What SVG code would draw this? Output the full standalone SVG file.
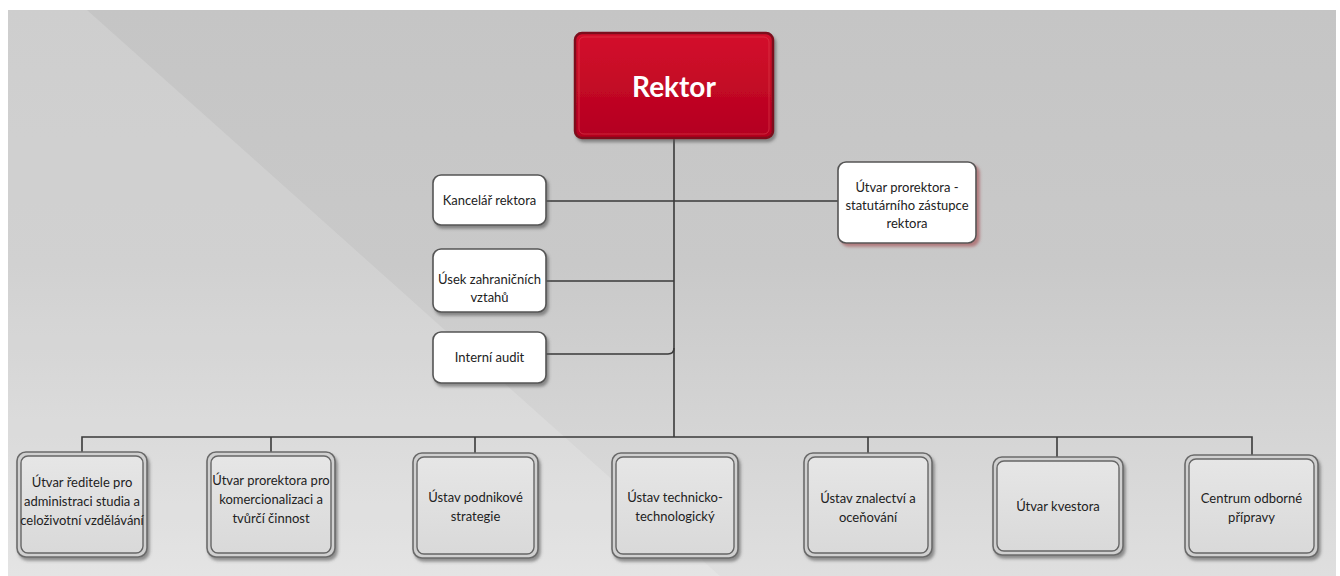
<svg xmlns="http://www.w3.org/2000/svg" width="1340" height="576" viewBox="0 0 1340 576">
<defs>
<linearGradient id="bg" x1="0" y1="0" x2="0" y2="1">
<stop offset="0" stop-color="#c5c5c5"/>
<stop offset="0.45" stop-color="#c9c9c9"/>
<stop offset="1" stop-color="#dfdfdf"/>
</linearGradient>
<linearGradient id="red" x1="0" y1="0" x2="0" y2="1">
<stop offset="0" stop-color="#d4102c"/>
<stop offset="1" stop-color="#b3001f"/>
</linearGradient>
<linearGradient id="gbox" x1="0" y1="0" x2="0" y2="1">
<stop offset="0" stop-color="#e6e6e6"/>
<stop offset="1" stop-color="#d9d9d9"/>
</linearGradient>
<filter id="sh" x="-10%" y="-10%" width="125%" height="130%">
<feDropShadow dx="2" dy="3" stdDeviation="1.5" flood-color="#555" flood-opacity="0.6"/>
</filter>
<filter id="shr" x="-10%" y="-10%" width="125%" height="130%">
<feDropShadow dx="3" dy="3" stdDeviation="1.5" flood-color="#a0484e" flood-opacity="0.6"/>
</filter>
</defs>
<style>
.t{font-family:Lato,"Open Sans","Liberation Sans",sans-serif;font-size:13px;fill:#222;text-anchor:middle}
.w{fill:#fff;stroke:#555;stroke-width:1.6}
.go{fill:#d0d0d0;stroke:#6b6b6b;stroke-width:1.6}
.gi{fill:url(#gbox);stroke:#666;stroke-width:1.4}
.ln{fill:none;stroke:#3a3a3a;stroke-width:1.6}
</style>
<rect x="0" y="0" width="1340" height="576" fill="#fff"/>
<rect x="8" y="10" width="1328" height="566" fill="url(#bg)"/>
<polygon points="8,10 87,10 720,576 8,576" fill="#fff" opacity="0.16"/>

<g id="connectors">
<path class="ln" d="M674,138 V437"/>
<path class="ln" d="M546,201 H838"/>
<path class="ln" d="M546,281 H674"/>
<path class="ln" d="M546,354 H668 Q674,354 674,348"/>
<path class="ln" d="M82,452 V437 H1252 V455"/>
<path class="ln" d="M271,437 V452"/>
<path class="ln" d="M475,437 V453"/>
<path class="ln" d="M868,437 V453"/>
<path class="ln" d="M1057,437 V457"/>
</g>

<g id="rektor">
<rect x="575" y="33" width="198" height="105" rx="7" fill="url(#red)" stroke="#7d0d1c" stroke-width="2.5" filter="url(#sh)"/>
<rect x="579" y="37" width="190" height="97" rx="5" fill="none" stroke="#e0404f" stroke-width="1" opacity="0.6"/>
<text x="674" y="97" font-family="Lato,'Open Sans','Liberation Sans',sans-serif" font-size="28" font-weight="bold" fill="#fff" text-anchor="middle">Rektor</text>
</g>

<g id="kancelar">
<rect class="w" x="433" y="175" width="113" height="50" rx="8" filter="url(#sh)"/>
<text class="t" x="489.5" y="205">Kancelář rektora</text>
</g>

<g id="usek">
<rect class="w" x="433" y="249" width="113" height="63" rx="8" filter="url(#sh)"/>
<text class="t" x="489.5" y="284">Úsek zahraničních</text>
<text class="t" x="489.5" y="302">vztahů</text>
</g>

<g id="audit">
<rect class="w" x="433" y="332" width="113" height="51" rx="8" filter="url(#sh)"/>
<text class="t" x="489.5" y="362">Interní audit</text>
</g>

<g id="prorektor-stat">
<rect class="w" x="838" y="162" width="138" height="81" rx="8" filter="url(#shr)"/>
<text class="t" x="907" y="192">Útvar prorektora -</text>
<text class="t" x="907" y="210">statutárního zástupce</text>
<text class="t" x="907" y="228">rektora</text>
</g>

<g id="b1">
<rect class="go" x="17" y="452" width="130" height="105" rx="9" filter="url(#sh)"/>
<rect class="gi" x="21" y="456" width="122" height="97" rx="7"/>
<text class="t" x="82" y="487">Útvar ředitele pro</text>
<text class="t" x="82" y="506">administraci studia  a</text>
<text class="t" x="82" y="525">celoživotní vzdělávání</text>
</g>

<g id="b2">
<rect class="go" x="207" y="452" width="128" height="105" rx="9" filter="url(#sh)"/>
<rect class="gi" x="211" y="456" width="120" height="97" rx="7"/>
<text class="t" x="271" y="485">Útvar prorektora pro</text>
<text class="t" x="271" y="504">komercionalizaci a</text>
<text class="t" x="271" y="523">tvůrčí činnost</text>
</g>

<g id="b3">
<rect class="go" x="413" y="453" width="125" height="105" rx="9" filter="url(#sh)"/>
<rect class="gi" x="417" y="457" width="117" height="97" rx="7"/>
<text class="t" x="475.5" y="502">Ústav podnikové</text>
<text class="t" x="475.5" y="521">strategie</text>
</g>

<g id="b4">
<rect class="go" x="612" y="453" width="126" height="105" rx="9" filter="url(#sh)"/>
<rect class="gi" x="616" y="457" width="118" height="97" rx="7"/>
<text class="t" x="675" y="502">Ústav technicko-</text>
<text class="t" x="675" y="521">technologický</text>
</g>

<g id="b5">
<rect class="go" x="804" y="453" width="128" height="104" rx="9" filter="url(#sh)"/>
<rect class="gi" x="808" y="457" width="120" height="96" rx="7"/>
<text class="t" x="868" y="503">Ústav znalectví a</text>
<text class="t" x="868" y="522">oceňování</text>
</g>

<g id="b6">
<rect class="go" x="993" y="457" width="130" height="98" rx="9" filter="url(#sh)"/>
<rect class="gi" x="997" y="461" width="122" height="90" rx="7"/>
<text class="t" x="1058" y="511">Útvar kvestora</text>
</g>

<g id="b7">
<rect class="go" x="1185" y="455" width="133" height="102" rx="9" filter="url(#sh)"/>
<rect class="gi" x="1189" y="459" width="125" height="94" rx="7"/>
<text class="t" x="1251.5" y="503">Centrum odborné</text>
<text class="t" x="1251.5" y="522">přípravy</text>
</g>
</svg>
